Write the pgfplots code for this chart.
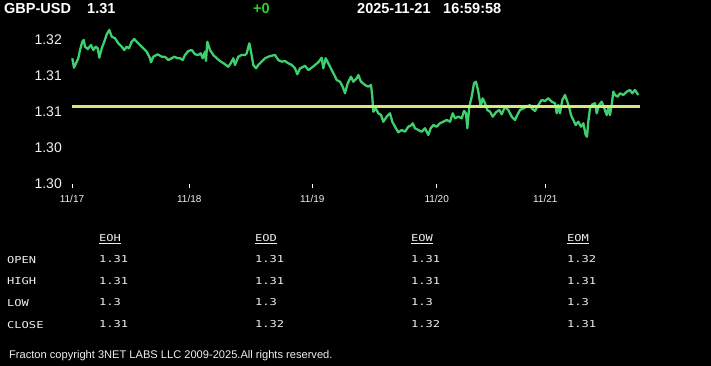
\documentclass[border=0pt]{standalone}
\usepackage{fontspec}
\setmainfont{Liberation Sans}
\newfontfamily\monof[FakeStretch=1.27]{DejaVu Sans Mono}
\usepackage{pgfplots}
\pgfplotsset{compat=1.18}
\definecolor{gline}{RGB}{62,208,110}
\definecolor{yline}{RGB}{214,232,122}
\definecolor{txt}{RGB}{240,240,240}
\definecolor{plus}{RGB}{51,204,51}
\pgfplotstableread{
x y
72.3 1.31746
74 1.31615
76 1.31676
78.3 1.31746
80 1.31861
82.3 1.31976
83.7 1.32000
85 1.31907
87.7 1.31875
91 1.31931
93.3 1.31861
95.7 1.31907
97.7 1.31885
99.3 1.31754
101.7 1.31885
104.3 1.31976
106.7 1.32079
109.3 1.32139
111.7 1.32046
115 1.32024
118.3 1.31954
121.7 1.31907
124.3 1.31861
126.7 1.31907
129 1.31885
131.7 1.31976
134.3 1.32014
136.7 1.31976
140 1.31931
143.3 1.31885
146.7 1.31838
150 1.31746
151 1.31690
153.3 1.31768
157.7 1.31801
161.7 1.31768
165 1.31768
168.3 1.31722
171.7 1.31746
174.3 1.31768
177.7 1.31746
180 1.31746
182.7 1.31722
185 1.31792
188.3 1.31847
191.7 1.31861
195 1.31801
198.3 1.31792
200.7 1.31815
202.7 1.31746
205 1.31838
206 1.31708
207.3 1.31976
210 1.31861
213.3 1.31792
216.7 1.31746
220 1.31708
225 1.31663
228.3 1.31629
230.7 1.31676
233.3 1.31746
235 1.31653
238.3 1.31768
241.7 1.31792
245 1.31792
246.7 1.31815
249.3 1.31954
251 1.31838
253.3 1.31653
256 1.31607
258.3 1.31653
261.7 1.31699
265 1.31746
268.3 1.31768
271.7 1.31782
275 1.31792
278.3 1.31722
281.7 1.31699
285 1.31708
288.3 1.31676
291.7 1.31653
295 1.31607
297.3 1.31524
300 1.31607
301.7 1.31615
305 1.31643
308.3 1.31583
311.7 1.31615
315 1.31653
318.3 1.31690
321.7 1.31754
323.3 1.31607
325.7 1.31746
328.3 1.31676
331.7 1.31583
334.3 1.31514
336.7 1.31444
340 1.31421
342.7 1.31351
345 1.31260
347.7 1.31399
351 1.31490
353.3 1.31421
356.7 1.31468
358.3 1.31514
361 1.31421
365 1.31375
368.3 1.31351
371 1.31375
372.3 1.31213
373.3 1.31004
375.7 1.31051
378.3 1.30982
381 1.30958
383.3 1.30865
386.7 1.30935
390 1.30982
392.3 1.30865
395 1.30796
398.3 1.30718
401.7 1.30750
405 1.30726
408.3 1.30796
411.7 1.30819
412.7 1.30843
415 1.30774
418.3 1.30750
421.7 1.30726
425 1.30774
428.3 1.30681
430.7 1.30774
433.3 1.30819
436.7 1.30796
440 1.30843
443.3 1.30865
446.7 1.30889
450 1.30865
452.7 1.30982
455 1.30913
458.3 1.30935
461.7 1.30913
464 1.31014
466 1.30982
467.3 1.30774
469.3 1.31074
471.7 1.31213
474 1.31399
476 1.31421
478.3 1.31282
480.7 1.31074
482.7 1.31190
485 1.31121
487.3 1.31028
490 1.31004
492.7 1.30935
496 1.30996
499.3 1.31028
501.7 1.30968
505 1.31074
508.3 1.31028
511.7 1.30935
515 1.30889
517.3 1.30958
520 1.31028
523.3 1.31051
526.7 1.31074
530 1.31097
531.7 1.31051
535 1.31014
538.3 1.31097
541.7 1.31167
545 1.31153
548.3 1.31190
551.7 1.31143
555 1.31121
556.7 1.30982
558.3 1.31097
560 1.30982
562.3 1.31167
565 1.31236
566.7 1.31167
569 1.31074
571 1.30958
573.3 1.30889
575.7 1.30819
578.3 1.30865
581 1.30796
583.3 1.30843
585.7 1.30681
587 1.30657
588.3 1.30865
590 1.31051
592.3 1.31107
595 1.31121
596.7 1.30982
599 1.31097
601.7 1.31143
604.3 1.31051
606.7 1.30958
608.3 1.31051
610 1.30958
611.7 1.31097
613.3 1.31282
615 1.31236
617.7 1.31213
620 1.31260
623.3 1.31236
626.7 1.31282
630 1.31306
632.3 1.31260
635 1.31306
638.3 1.31236
}\gbpusd
\begin{document}
\begin{tikzpicture}[x=1pt,y=1pt]
\path[use as bounding box, fill=black] (0,0) rectangle (711,366);
\begin{axis}[
  at={(66pt,182pt)}, anchor=south west, scale only axis,
  width=594pt, height=144pt,
  xmin=66, xmax=660, ymin=1.30, ymax=1.32, clip=false,
  axis x line*=bottom, axis y line*=left,
  axis line style={draw=none},
  xtick={72,189.3,312.3,436.7,545.3},
  xticklabels={11/17,11/18,11/19,11/20,11/21},
  ytick={1.30,1.305,1.31,1.315,1.32},
  yticklabels={1.30,1.30,1.31,1.31,1.32},
  x tick style={white, line width=1pt},
  xtick align=outside, ytick align=inside,
  major tick length=4pt,
  y tick style={draw=none},
  xticklabel shift=7pt, yticklabel shift=4pt,
  xticklabel style={font=\fontsize{10}{12}\selectfont, text=txt, inner sep=0pt},
  yticklabel style={font=\fontsize{14}{16}\selectfont, text=txt, inner sep=0pt, anchor=east},
]
\addplot[gline, line width=2.3pt, line join=round, mark=none] table[x=x,y=y] {\gbpusd};
\addplot[yline, line width=2.8pt, mark=none] coordinates {(72,1.31074) (640,1.31074)};
\end{axis}
\begin{scope}[every node/.style={inner sep=0pt, anchor=west, text=white, font=\bfseries\fontsize{14.5}{16}\selectfont}]
\node at (4,357) {GBP-USD};
\node at (87,357) {1.31};
\node[text=plus] at (253,357) {+0};
\node at (357,357) {2025-11-21};
\node at (443,357) {16:59:58};
\end{scope}
\begin{scope}[every node/.style={inner sep=0pt, anchor=west, text=txt, font=\monof\fontsize{9.5}{11}\selectfont}]
\node at (99,127) {\underline{EOH}};
\node at (255,127) {\underline{EOD}};
\node at (411,127) {\underline{EOW}};
\node at (567,127) {\underline{EOM}};
\node at (7,106) {OPEN};
\node at (7,85) {HIGH};
\node at (7,63) {LOW};
\node at (7,41) {CLOSE};
\node at (99,107) {1.31};
\node at (255,107) {1.31};
\node at (411,107) {1.31};
\node at (567,107) {1.32};
\node at (99,85) {1.31};
\node at (255,85) {1.31};
\node at (411,85) {1.31};
\node at (567,85) {1.31};
\node at (99,64) {1.3};
\node at (255,64) {1.3};
\node at (411,64) {1.3};
\node at (567,64) {1.3};
\node at (99,42) {1.31};
\node at (255,42) {1.32};
\node at (411,42) {1.32};
\node at (567,42) {1.31};
\end{scope}
\node[inner sep=0pt, anchor=west, text=txt, font=\fontsize{11.1}{12}\selectfont] at (9,10) {Fracton copyright 3NET LABS LLC 2009-2025.All rights reserved.};
\end{tikzpicture}
\end{document}
